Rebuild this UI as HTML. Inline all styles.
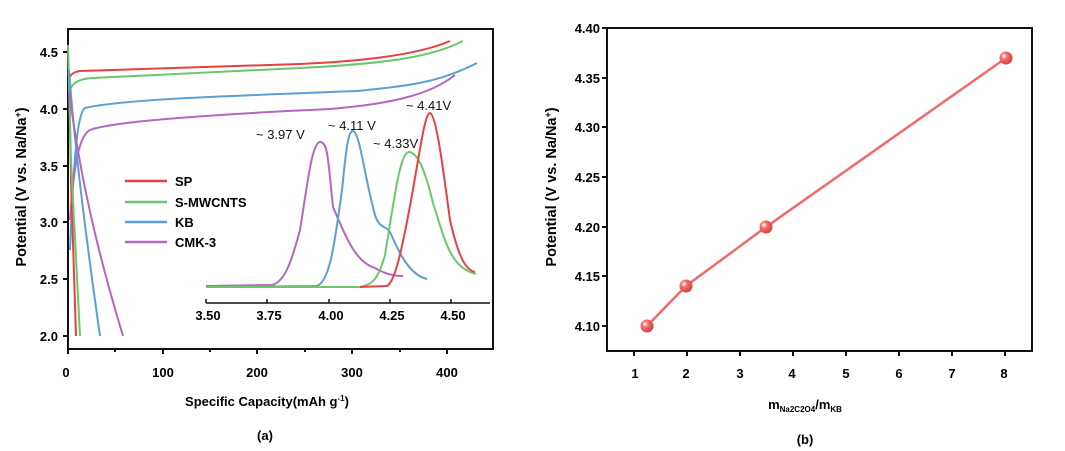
<!DOCTYPE html>
<html><head><meta charset="utf-8"><style>
body{margin:0;background:#fff}
svg{display:block;font-family:"Liberation Sans",Arial,sans-serif}
.b{font-weight:bold;font-size:13px}
.yl{font-weight:bold;font-size:14.5px}
</style></head><body>
<svg width="1065" height="451" viewBox="0 0 1065 451">
<defs><radialGradient id="g" cx="0.35" cy="0.35" r="0.7"><stop offset="0" stop-color="#fff"/><stop offset="0.35" stop-color="#f07070"/><stop offset="1" stop-color="#d83a3a"/></radialGradient></defs>
<!-- Panel a -->
<rect x="68" y="29" width="425" height="320" fill="none" stroke="#111" stroke-width="2"/>
<g stroke="#111" stroke-width="2">
<line x1="63" y1="52" x2="68" y2="52"/><line x1="63" y1="109" x2="68" y2="109"/><line x1="63" y1="166" x2="68" y2="166"/><line x1="63" y1="222" x2="68" y2="222"/><line x1="63" y1="279" x2="68" y2="279"/><line x1="63" y1="336" x2="68" y2="336"/>
<line x1="68" y1="349" x2="68" y2="354"/><line x1="163" y1="349" x2="163" y2="354"/><line x1="257" y1="349" x2="257" y2="354"/><line x1="352" y1="349" x2="352" y2="354"/><line x1="447" y1="349" x2="447" y2="354"/>
<line x1="115" y1="349" x2="115" y2="352"/><line x1="210" y1="349" x2="210" y2="352"/><line x1="305" y1="349" x2="305" y2="352"/><line x1="400" y1="349" x2="400" y2="352"/>
</g>
<g class="b" text-anchor="end"><text x="58" y="57">4.5</text><text x="58" y="114">4.0</text><text x="58" y="171">3.5</text><text x="58" y="227">3.0</text><text x="58" y="284">2.5</text><text x="58" y="341">2.0</text></g>
<g class="b" text-anchor="middle"><text x="66" y="377">0</text><text x="163" y="377">100</text><text x="257" y="377">200</text><text x="352" y="377">300</text><text x="447" y="377">400</text>
<text x="267" y="406">Specific Capacity(mAh g<tspan font-size="8" dy="-5">-1</tspan><tspan dy="5">)</tspan></text>
<text x="265" y="440">(a)</text></g>
<text class="yl" transform="translate(26,187) rotate(-90)" text-anchor="middle">Potential  (V vs. Na/Na<tspan font-size="9" dy="-5">+</tspan><tspan dy="5">)</tspan></text>
<g fill="none" stroke-width="2">
<path d="M69,80 C70,74 74,72 80,71 L300,64 C370,61 420,54 450,41" stroke="#e84040"/>
<path d="M69,92 C72,82 80,79 92,78 L300,68 C380,64 430,58 463,41" stroke="#6cc66c"/>
<path d="M70,250 C74,150 78,112 85,108 C120,100 200,97 357,91 C410,86 440,82 477,63" stroke="#5a9fd6"/>
<path d="M70,220 C74,160 80,135 90,130 C110,122 200,115 330,109 C390,104 430,95 455,75" stroke="#b466c0"/>
<path d="M69,74 L71,180 L76,336" stroke="#e84040"/>
<path d="M68,45 L71,160 L80,336" stroke="#6cc66c"/>
<path d="M69,70 C75,150 85,230 100,336" stroke="#5a9fd6"/>
<path d="M69,90 C80,180 100,260 123,336" stroke="#b466c0"/>
</g>
<!-- legend -->
<g stroke-width="2.5"><line x1="125" y1="181" x2="167" y2="181" stroke="#e84040"/><line x1="125" y1="202" x2="167" y2="202" stroke="#6cc66c"/><line x1="125" y1="222" x2="167" y2="222" stroke="#5a9fd6"/><line x1="125" y1="242" x2="167" y2="242" stroke="#b466c0"/></g>
<g class="b" font-size="12"><text x="175" y="186">SP</text><text x="175" y="207">S-MWCNTS</text><text x="175" y="227">KB</text><text x="175" y="247">CMK-3</text></g>
<!-- inset -->
<line x1="206" y1="303" x2="490" y2="303" stroke="#111" stroke-width="1.5"/>
<g stroke="#111" stroke-width="1.5"><line x1="206" y1="299" x2="206" y2="303"/><line x1="267" y1="299" x2="267" y2="303"/><line x1="329" y1="299" x2="329" y2="303"/><line x1="390" y1="299" x2="390" y2="303"/><line x1="451" y1="299" x2="451" y2="303"/></g>
<g class="b" font-size="12" text-anchor="middle"><text x="208" y="320">3.50</text><text x="269" y="320">3.75</text><text x="331" y="320">4.00</text><text x="392" y="320">4.25</text><text x="453" y="320">4.50</text></g>
<g fill="none" stroke-width="2">
<path d="M206,286 L272,285 C285,282 292,260 300,230 C308,180 312,143 320,142 C328,142 328,160 333,207 C345,235 355,262 375,268 C385,274 395,276 403,276" stroke="#b466c0"/>
<path d="M206,287 L316,286 C330,284 335,240 342,190 C346,150 348,131 353,131 C360,133 364,175 375,215 C380,230 386,225 390,232 C400,255 410,275 427,279" stroke="#5a9fd6"/>
<path d="M206,287 L360,287 C372,285 378,280 385,255 C394,200 400,152 409,152 C418,153 425,170 433,203 C445,240 450,268 476,274" stroke="#6cc66c"/>
<path d="M360,287 L387,286 C395,282 402,250 412,195 C420,150 425,113 430,113 C436,115 442,160 450,220 C458,255 465,270 475,272" stroke="#e84040"/>
</g>
<g font-size="13" fill="#111"><text x="256" y="139">~ 3.97 V</text><text x="328" y="130">~ 4.11 V</text><text x="373" y="148">~ 4.33V</text><text x="406" y="110">~ 4.41V</text></g>
<!-- Panel b -->
<rect x="607" y="28" width="425" height="323" fill="none" stroke="#111" stroke-width="2"/>
<g stroke="#111" stroke-width="2">
<line x1="602" y1="28" x2="607" y2="28"/><line x1="602" y1="78" x2="607" y2="78"/><line x1="602" y1="127" x2="607" y2="127"/><line x1="602" y1="177" x2="607" y2="177"/><line x1="602" y1="227" x2="607" y2="227"/><line x1="602" y1="276" x2="607" y2="276"/><line x1="602" y1="326" x2="607" y2="326"/>
<line x1="634" y1="351" x2="634" y2="356"/><line x1="687" y1="351" x2="687" y2="356"/><line x1="740" y1="351" x2="740" y2="356"/><line x1="793" y1="351" x2="793" y2="356"/><line x1="846" y1="351" x2="846" y2="356"/><line x1="899" y1="351" x2="899" y2="356"/><line x1="952" y1="351" x2="952" y2="356"/><line x1="1005" y1="351" x2="1005" y2="356"/>
</g>
<g class="b" text-anchor="end"><text x="600" y="33">4.40</text><text x="600" y="83">4.35</text><text x="600" y="132">4.30</text><text x="600" y="182">4.25</text><text x="600" y="232">4.20</text><text x="600" y="281">4.15</text><text x="600" y="331">4.10</text></g>
<g class="b" text-anchor="middle"><text x="635" y="378">1</text><text x="686" y="378">2</text><text x="740" y="378">3</text><text x="792" y="378">4</text><text x="846" y="378">5</text><text x="899" y="378">6</text><text x="952" y="378">7</text><text x="1004" y="378">8</text>
<text x="805" y="409">m<tspan font-size="8" dy="3">Na2C2O4</tspan><tspan dy="-3">/m</tspan><tspan font-size="8" dy="3">KB</tspan></text>
<text x="805" y="444">(b)</text></g>
<text class="yl" transform="translate(556,187) rotate(-90)" text-anchor="middle">Potential  (V vs. Na/Na<tspan font-size="9" dy="-5">+</tspan><tspan dy="5">)</tspan></text>
<polyline points="647,326 686,286 766,227 1006,58" fill="none" stroke="#f06a6a" stroke-width="2.5"/>
<g fill="url(#g)"><circle cx="647" cy="326" r="6.5"/><circle cx="686" cy="286" r="6.5"/><circle cx="766" cy="227" r="6.5"/><circle cx="1006" cy="58" r="6.5"/></g>
</svg>
</body></html>
